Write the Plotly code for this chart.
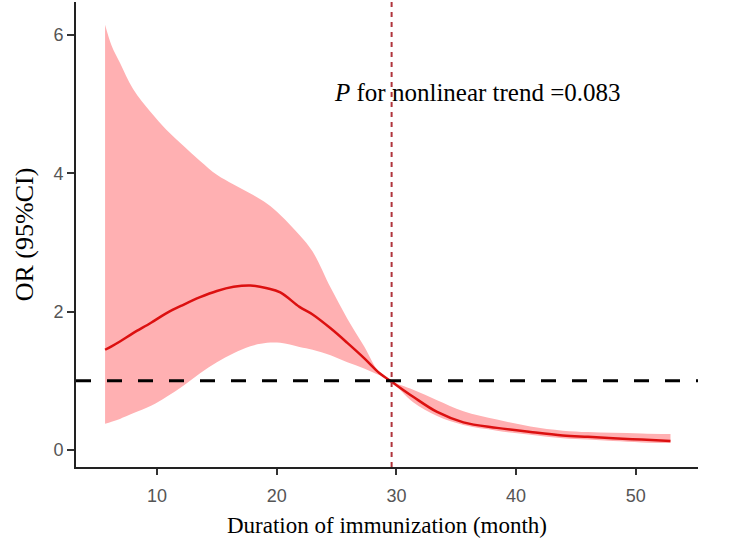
import plotly.graph_objects as go

# Data
x_vals = [5.66, 6.2, 6.9, 8.0, 9.5, 10.8, 12.2, 13.6, 15.0, 16.4, 17.8, 19.2, 20.3, 21.9, 23.0, 24.5, 25.9, 27.3, 28.6,
          29.5, 31.4, 33.4, 35.6, 38.4, 41.2, 43.9, 46.0, 48.1, 50.5, 52.9]
or_vals = [1.45, 1.50, 1.57, 1.69, 1.84, 1.98, 2.10, 2.21, 2.30, 2.36, 2.38, 2.34, 2.28, 2.07, 1.96, 1.76, 1.55, 1.33, 1.11,
           1.0, 0.77, 0.55, 0.40, 0.32, 0.26, 0.21, 0.19, 0.17, 0.15, 0.13]
upper_vals = [6.15, 5.85, 5.60, 5.22, 4.88, 4.63, 4.40, 4.18, 3.98, 3.84, 3.71, 3.56, 3.40, 3.11, 2.87, 2.35, 1.90, 1.50,
              1.11, 1.0, 0.87, 0.72, 0.56, 0.44, 0.34, 0.28, 0.26, 0.25, 0.24, 0.23]
lower_vals = [0.38, 0.41, 0.45, 0.53, 0.64, 0.77, 0.93, 1.11, 1.27, 1.40, 1.50, 1.55, 1.55, 1.49, 1.45, 1.37, 1.27, 1.18,
              1.08, 1.0, 0.69, 0.49, 0.36, 0.28, 0.22, 0.17, 0.15, 0.13, 0.11, 0.10]
knot_x = 29.6
ref_or = 1.0
x_ticks = [10, 20, 30, 40, 50]
y_ticks = [0, 2, 4, 6]

fig = go.Figure()
fig.add_trace(go.Scatter(x=x_vals, y=upper_vals, mode="lines", line=dict(width=0, shape="spline"),
                         hoverinfo="skip", showlegend=False))
fig.add_trace(go.Scatter(x=x_vals, y=lower_vals, mode="lines", line=dict(width=0, shape="spline"), fill="tonexty",
                         fillcolor="#FFB0B2", hoverinfo="skip", showlegend=False))
fig.add_trace(go.Scatter(x=x_vals, y=or_vals, mode="lines", line=dict(color="#DC1010", width=2.5, shape="spline"),
                         showlegend=False))

fig.add_shape(type="line", xref="paper", x0=0, x1=1, yref="y", y0=ref_or, y1=ref_or,
              line=dict(color="black", width=3, dash="15px,16px"))
fig.add_shape(type="line", xref="x", x0=knot_x, x1=knot_x, yref="paper", y0=0, y1=1,
              line=dict(color="#B0343C", width=2, dash="5px,5px"))

fig.add_annotation(xref="paper", yref="paper", x=0.6455, y=0.806, xanchor="center", yanchor="middle",
                   showarrow=False, text="<i>P</i> for nonlinear trend =0.083",
                   font=dict(family="Liberation Serif", size=25, color="black"))

fig.update_layout(
    width=744, height=560, plot_bgcolor="white", paper_bgcolor="white",
    margin=dict(l=76, r=46, t=2, b=93),
    xaxis=dict(range=[3.23, 55.2], tickvals=x_ticks, ticks="outside", ticklen=6, tickwidth=1.5, automargin=False,
               tickcolor="#333", showline=True, linecolor="#222", linewidth=2, showgrid=False, zeroline=False,
               ticklabelstandoff=5,
               tickfont=dict(family="Liberation Sans", size=18, color="#555"),
               title=dict(text="Duration of immunization (month)", standoff=12,
                          font=dict(family="Liberation Serif", size=23, color="black"))),
    yaxis=dict(range=[-0.246, 6.48], tickvals=y_ticks, ticks="outside", ticklen=7, tickwidth=1.5, automargin=False,
               tickcolor="#333", showline=True, linecolor="#222", linewidth=2, showgrid=False, zeroline=False,
               tickfont=dict(family="Liberation Sans", size=18, color="#555"),
               title=dict(text="OR (95%CI)", standoff=12,
                          font=dict(family="Liberation Serif", size=26, color="black"))),
)

fig.write_html("out.html", config={"displayModeBar": False},
               post_script="document.body.style.margin='0px';")
